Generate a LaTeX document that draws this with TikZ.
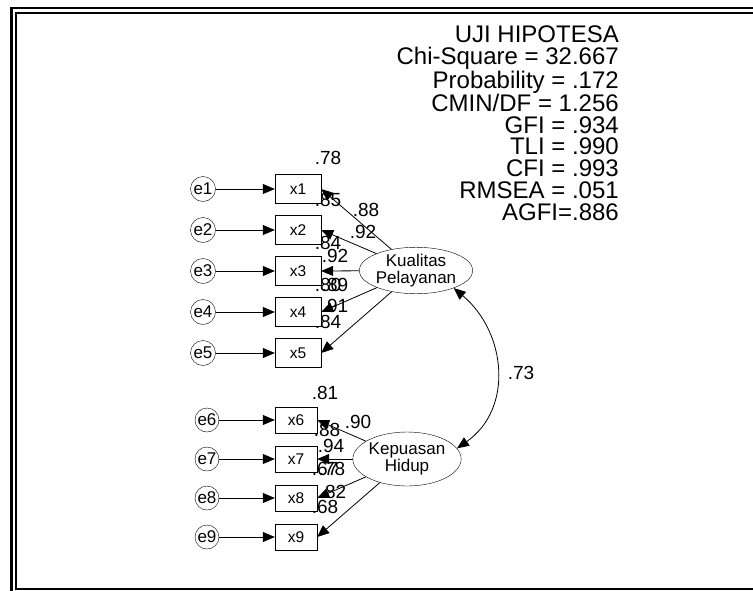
\documentclass[tikz,border=0pt]{standalone}
\usepackage{fontspec}
\setmainfont{Liberation Sans}
\usetikzlibrary{arrows.meta,shapes.geometric}

\tikzset{
  err/.style = {draw, circle, inner sep=0pt, minimum size=25pt, font=\fontsize{17}{17}\selectfont},
  ind/.style = {draw, rectangle, inner sep=0pt, minimum width=46pt, minimum height=29pt, font=\fontsize{15.5}{16}\selectfont},
  lat/.style = {draw, ellipse, inner sep=0pt, align=center, font=\fontsize{17}{17}\selectfont},
  est/.style = {inner sep=0pt, font=\fontsize{19}{19}\selectfont},
  reg/.style = {-{Triangle[length=12pt,width=10pt]}, line width=0.8pt},
  cov/.style = {{Triangle[length=12pt,width=10pt]}-{Triangle[length=12pt,width=10pt]}, line width=0.8pt}
}

\begin{document}
\begin{tikzpicture}[x=1pt, y=-1pt]
\useasboundingbox (0,0) rectangle (753,590);
\clip (0,0) rectangle (753,590);
% frame
\draw[line width=2.6pt] (11.5,780) -- (11.5,8) -- (780,8);
\draw[line width=2pt] (780,13) -- (15.5,13) -- (15.5,589) -- (780,589);

% fit indices
\node[anchor=north east, inner sep=0pt, align=right, font=\fontsize{24}{21.75}\selectfont] (fit) at (619,26)
  {UJI HIPOTESA\\Chi-Square = 32.667\\Probability = .172\\CMIN/DF = 1.256\\GFI = .934\\TLI = .990\\CFI = .993\\RMSEA = .051\\AGFI=.886};

% latent variables
\node[lat, minimum width=94pt, minimum height=45pt] (kp) at (416,270.5) {Kualitas\\Pelayanan};
\node[lat, minimum width=88pt, minimum height=54pt] (kh) at (407,459) {Kepuasan\\Hidup};

% Kualitas Pelayanan indicators
\foreach \i/\y in {1/189, 2/230, 3/271, 4/312, 5/353}{
  \node[err] (e\i) at (203,\y) {e\i};
  \node[ind] (x\i) at (298,\y) {x\i};
  \draw[reg] (e\i) -- (x\i);
  \draw[reg] (kp) -- (x\i.east);
}

% Kepuasan Hidup indicators
\foreach \i/\y in {6/420, 7/459, 8/498, 9/537}{
  \node[err, minimum size=24pt] (e\i) at (207,\y) {e\i};
  \node[ind, minimum width=42pt, minimum height=26pt] (x\i) at (296,\y) {x\i};
  \draw[reg] (e\i) -- (x\i);
  \draw[reg] (kh) -- (x\i.east);
}

% covariance
\draw[cov] (kp.-25) to[out=-40, in=35, looseness=1.1] (kh.12);
\node[est] (r) at (521,373) {.73};

% estimates
\node[est] (r1) at (328,158) {.78};
\node[est] (r2) at (328,200) {.85};
\node[est] (w1) at (366,210) {.88};
\node[est] (w2) at (363,232) {.92};
\node[est] (r3) at (328,243) {.84};
\node[est] (w3) at (335,256) {.92};
\node[est] (r4) at (328,285) {.80};
\node[est] (w4) at (335,285) {.89};
\node[est] (w5) at (335,306) {.91};
\node[est] (r5) at (328,322) {.84};
\node[est] (r6) at (325,393) {.81};
\node[est] (w6) at (358,422) {.90};
\node[est] (r7) at (327,430) {.88};
\node[est] (w7) at (331,446) {.94};
\node[est] (r8) at (325,469) {.67};
\node[est] (w8) at (332,469) {.78};
\node[est] (w9) at (333,492) {.82};
\node[est] (r9) at (325,507) {.68};
\end{tikzpicture}
\end{document}
